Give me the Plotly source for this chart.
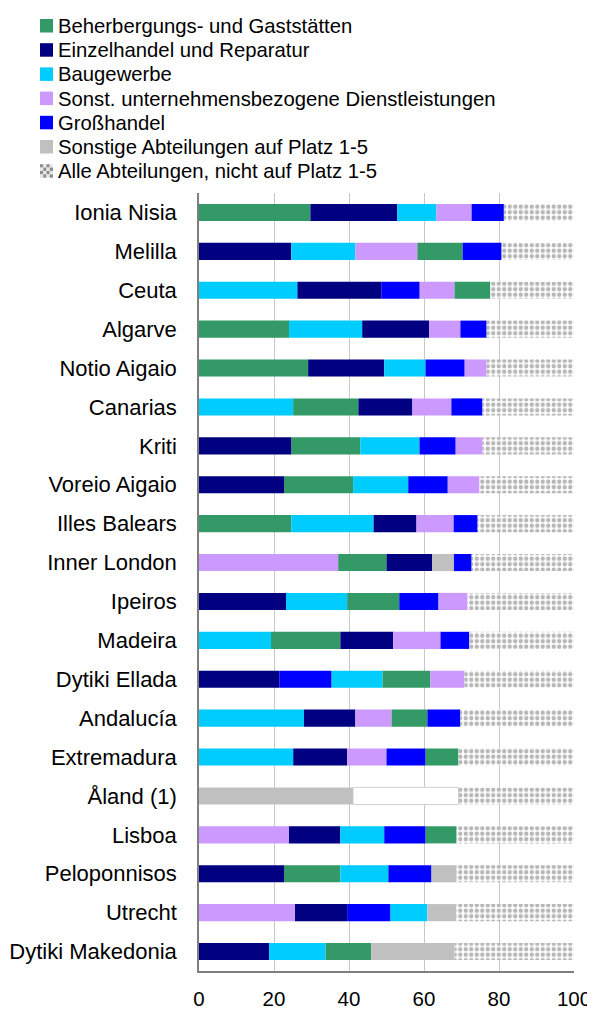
import plotly.graph_objects as go

regions = ["Ionia Nisia", "Melilla", "Ceuta", "Algarve", "Notio Aigaio", "Canarias",
           "Kriti", "Voreio Aigaio", "Illes Balears", "Inner London", "Ipeiros",
           "Madeira", "Dytiki Ellada", "Andalucía", "Extremadura", "Åland (1)",
           "Lisboa", "Peloponnisos", "Utrecht", "Dytiki Makedonia"]

# segment lengths (% share), None = not in top 5
beherbergung = [29.7, 12.1, 9.6, 24.0, 29.1, 17.4, 18.4, 18.4, 24.6, 12.9,
                13.9, 18.5, 12.8, 9.6, 8.8, None, 8.3, 15.0, None, 12.2]
einzelhandel = [23.2, 24.6, 22.4, 17.9, 20.3, 14.4, 24.6, 22.7, 11.5, 12.2,
                23.2, 14.1, 21.4, 13.7, 14.4, None, 13.7, 22.7, 13.9, 18.7]
baugewerbe = [10.4, 17.1, 26.2, 19.5, 11.0, 25.1, 15.8, 14.7, 21.9, None,
              16.3, 19.2, 13.6, 28.0, 25.1, None, 11.7, 12.8, 9.9, 15.0]
dienstleistungen = [9.4, 16.5, 9.3, 8.3, 5.9, 10.4, 7.2, 8.5, 9.9, 37.1,
                    7.8, 12.6, 9.1, 9.6, 10.5, None, 24.0, None, 25.6, None]
grosshandel = [8.6, 10.4, 10.2, 7.0, 10.4, 8.3, 9.6, 10.5, 6.4, 4.8,
               10.4, 7.7, 13.9, 8.8, 10.4, None, 11.0, 11.5, 11.5, None]
sonstige = [None, None, None, None, None, None, None, None, None, 5.7,
            None, None, None, None, None, 41.1, None, 6.7, 7.7, 22.2]
vertraulich = [None] * 15 + [28.1] + [None] * 4
nicht_top5 = [18.7, 19.3, 22.3, 23.3, 23.3, 24.4, 24.4, 25.2, 25.7, 27.3,
              28.4, 27.9, 29.2, 30.3, 30.8, 30.8, 31.3, 31.3, 31.4, 31.9]

# rank order of the segments in each bar
# G=Beherbergung, E=Einzelhandel, B=Baugewerbe, D=Dienstleistungen, H=Großhandel,
# S=Sonstige, W=ohne Angabe
rank_order = ["GEBDH", "EBDGH", "BEHDG", "GBEDH", "GEBHD", "BGEDH", "EGBHD", "EGBHD",
              "GBEDH", "DGESH", "EBGHD", "BGEDH", "EHBGD", "BEDGH", "BEDHG", "SW",
              "DEBHG", "EGBHS", "DEHBS", "EBGS"]

series = {
    "G": ("Beherbergungs- und Gaststätten", beherbergung, "#339966"),
    "E": ("Einzelhandel und Reparatur", einzelhandel, "#000080"),
    "B": ("Baugewerbe", baugewerbe, "#00CCFF"),
    "D": ("Sonst. unternehmensbezogene Dienstleistungen", dienstleistungen, "#CC99FF"),
    "H": ("Großhandel", grosshandel, "#0000FF"),
    "S": ("Sonstige Abteilungen auf Platz 1-5", sonstige, "#C0C0C0"),
}
rest_name = "Alle Abteilungen, nicht auf Platz 1-5"

bases = {k: [None] * len(regions) for k in list(series) + ["W"]}
rest_base = []
for i, order in enumerate(rank_order):
    cum = 0.0
    for code in order:
        vals = vertraulich if code == "W" else series[code][1]
        bases[code][i] = cum
        cum += vals[i]
    rest_base.append(cum)

# the page places the figure 8px from the top-left corner
OFF = 8
W, H = 595 - OFF, 1012 - OFF
ML, MR, MT, MB = 199 - OFF, 21, 193 - OFF, 41
PW, PH = W - ML - MR, H - MT - MB


def px_x(px):
    return (px - OFF - ML) / PW


def px_y(py):
    return (H - MB - (py - OFF)) / PH


fig = go.Figure()
for code, (name, vals, color) in series.items():
    fig.add_trace(go.Bar(
        y=regions, x=vals, base=bases[code], orientation="h", name=name,
        marker=dict(color=color, line=dict(width=0)), showlegend=False,
    ))

fig.add_trace(go.Bar(
    y=regions, x=nicht_top5, base=rest_base, orientation="h",
    name=rest_name, showlegend=False,
    marker=dict(color="white", line=dict(width=0),
                pattern=dict(shape=".", fgcolor="#707070", bgcolor="white",
                             size=5.5, solidity=0.5)),
))

fig.add_trace(go.Bar(
    y=regions, x=vertraulich, base=bases["W"], orientation="h",
    name="ohne Angabe", showlegend=False,
    marker=dict(color="white", line=dict(width=1, color="#D0D0D0")),
))

# legend (drawn manually to match the compact line spacing)
legend_names = [v[0] for v in series.values()] + [rest_name]
legend_colors = [v[2] for v in series.values()] + [None]
annotations = []
shapes = []
for k, (name, color) in enumerate(zip(legend_names, legend_colors)):
    cy = 24.5 + 24.2 * k
    annotations.append(dict(
        text=name, xref="paper", yref="paper", x=px_x(56), y=px_y(cy + 1.5),
        xanchor="left", yanchor="middle", showarrow=False,
        font=dict(size=20.3, color="#000000"),
    ))
    x0, x1 = 40, 53
    y0, y1 = cy - 5.5, cy + 8
    if color is not None:
        shapes.append(dict(type="rect", xref="paper", yref="paper",
                           x0=px_x(x0), x1=px_x(x1), y0=px_y(y1), y1=px_y(y0),
                           fillcolor=color, line=dict(width=0)))
    else:
        n = 4
        cw = (x1 - x0) / n
        ch = (y1 - y0) / n
        for a in range(n):
            for b in range(n):
                c = "#8C8C8C" if (a + b) % 2 == 0 else "#E6E6E6"
                shapes.append(dict(type="rect", xref="paper", yref="paper",
                                   x0=px_x(x0 + a * cw), x1=px_x(x0 + (a + 1) * cw),
                                   y0=px_y(y0 + (b + 1) * ch), y1=px_y(y0 + b * ch),
                                   fillcolor=c, line=dict(width=0)))

fig.update_layout(
    width=W, height=H,
    margin=dict(l=ML, r=MR, t=MT, b=MB, autoexpand=False),
    paper_bgcolor="white", plot_bgcolor="white",
    barmode="overlay", bargap=0.56,
    font=dict(family="Liberation Sans, Arial, sans-serif", size=20, color="#000000"),
    showlegend=False,
    annotations=annotations, shapes=shapes,
    xaxis=dict(range=[0, 100], dtick=20, tick0=0, showgrid=True,
               gridcolor="#C8C8C8", gridwidth=1, zeroline=False,
               showline=True, linecolor="#7F7F7F", linewidth=1.5,
               ticks="", ticklabelstandoff=9, tickfont=dict(size=20.5),
               automargin=False),
    yaxis=dict(autorange="reversed", showgrid=False, zeroline=False,
               showline=True, linecolor="#7F7F7F", linewidth=1.5,
               ticks="", ticklabelstandoff=16, tickfont=dict(size=22),
               automargin=False),
)

fig.write_html("out.html")
